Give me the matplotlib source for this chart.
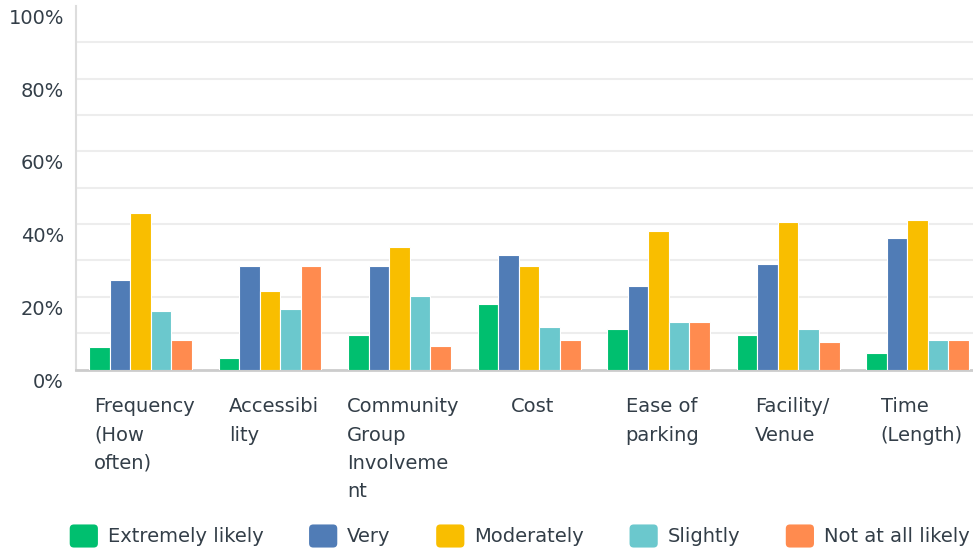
import matplotlib
matplotlib.use("Agg")
import matplotlib.pyplot as plt
import matplotlib.transforms as mtransforms
from matplotlib.patches import FancyBboxPatch, Patch
from matplotlib.legend_handler import HandlerPatch
import numpy as np

plt.rcParams['font.family'] = ['DejaVu Sans']

# data (percent)
categories = ["Frequency\n(How\noften)", "Accessibi\nlity", "Community\nGroup\nInvolveme\nnt",
              "Cost", "Ease of\nparking", "Facility/\nVenue", "Time\n(Length)"]
series_names = ["Extremely likely", "Very", "Moderately", "Slightly", "Not at all likely"]
extremely = [6.3, 3.2, 9.5, 18.0, 11.1, 9.5, 4.5]
very = [24.6, 28.5, 28.5, 31.5, 23.0, 29.0, 36.2]
moderately = [43.0, 21.6, 33.7, 28.5, 38.1, 40.6, 41.1]
slightly = [16.1, 16.6, 20.2, 11.7, 13.1, 11.1, 8.1]
not_at_all = [8.1, 28.5, 6.5, 8.1, 13.1, 7.6, 8.1]
yticks = [0, 20, 40, 60, 80, 100]

colors = ["#00BF6F", "#507CB6", "#F9BE00", "#6BC8CD", "#FF8B4F"]
text_col = "#333E48"


# rounded square legend keys
class RoundKey(HandlerPatch):
    def create_artists(self, legend, orig_handle, xdescent, ydescent, width, height, fontsize, trans):
        p = FancyBboxPatch((-xdescent, -ydescent), width, height,
                           boxstyle="round,pad=0,rounding_size=3",
                           facecolor=orig_handle.get_facecolor(), edgecolor="none", transform=trans)
        return [p]


fig = plt.figure(figsize=(9.73, 5.52), dpi=100)
ax = fig.add_axes([75.75 / 973, (552 - 369.5) / 552, (973 - 75.75) / 973, 363.5 / 552])

x = np.arange(len(categories))
w = 0.159
all_series = [extremely, very, moderately, slightly, not_at_all]
for i, vals in enumerate(all_series):
    ax.bar(x + (i - 2) * w, vals, width=w, color=colors[i], edgecolor="white",
           linewidth=0.8, zorder=3)

ax.set_xlim(-0.5, 6.428)
ax.set_ylim(0, 100)

# gridlines every 10%
for g in range(10, 100, 10):
    ax.axhline(g, color="#EDEDED", linewidth=1.5, zorder=1)

for s in ["top", "right"]:
    ax.spines[s].set_visible(False)
ax.spines["left"].set_color("#DDDDDD")
ax.spines["left"].set_linewidth(1.5)
ax.spines["bottom"].set_color("#CCCCCC")
ax.spines["bottom"].set_linewidth(2)

ax.set_yticks(yticks)
ax.set_yticklabels([f"{v}%" for v in yticks], fontsize=14, color=text_col)
ax.tick_params(axis="y", length=0, pad=8.5)
off = mtransforms.ScaledTranslation(0, -10.5 / 100, fig.dpi_scale_trans)
for lbl in ax.get_yticklabels():
    lbl.set_transform(lbl.get_transform() + off)

ax.set_xticks(x)
ax.set_xticklabels(categories, fontsize=14, color=text_col, linespacing=1.62,
                   ha="center", va="top", multialignment="left")
ax.tick_params(axis="x", length=0, pad=20)
xoff = mtransforms.ScaledTranslation(4 / 100, 0, fig.dpi_scale_trans)
for lbl in ax.get_xticklabels():
    lbl.set_transform(lbl.get_transform() + xoff)

handles = [Patch(facecolor=c) for c in colors]
leg = fig.legend(handles, series_names, loc="center", bbox_to_anchor=(0.534, 1 - 536 / 552),
                 ncol=5, frameon=False, fontsize=14, handlelength=1.45, handleheight=1.45,
                 handletextpad=0.5, columnspacing=2.35, labelcolor=text_col,
                 handler_map={Patch: RoundKey()})

fig.savefig("out.png", dpi=100)
